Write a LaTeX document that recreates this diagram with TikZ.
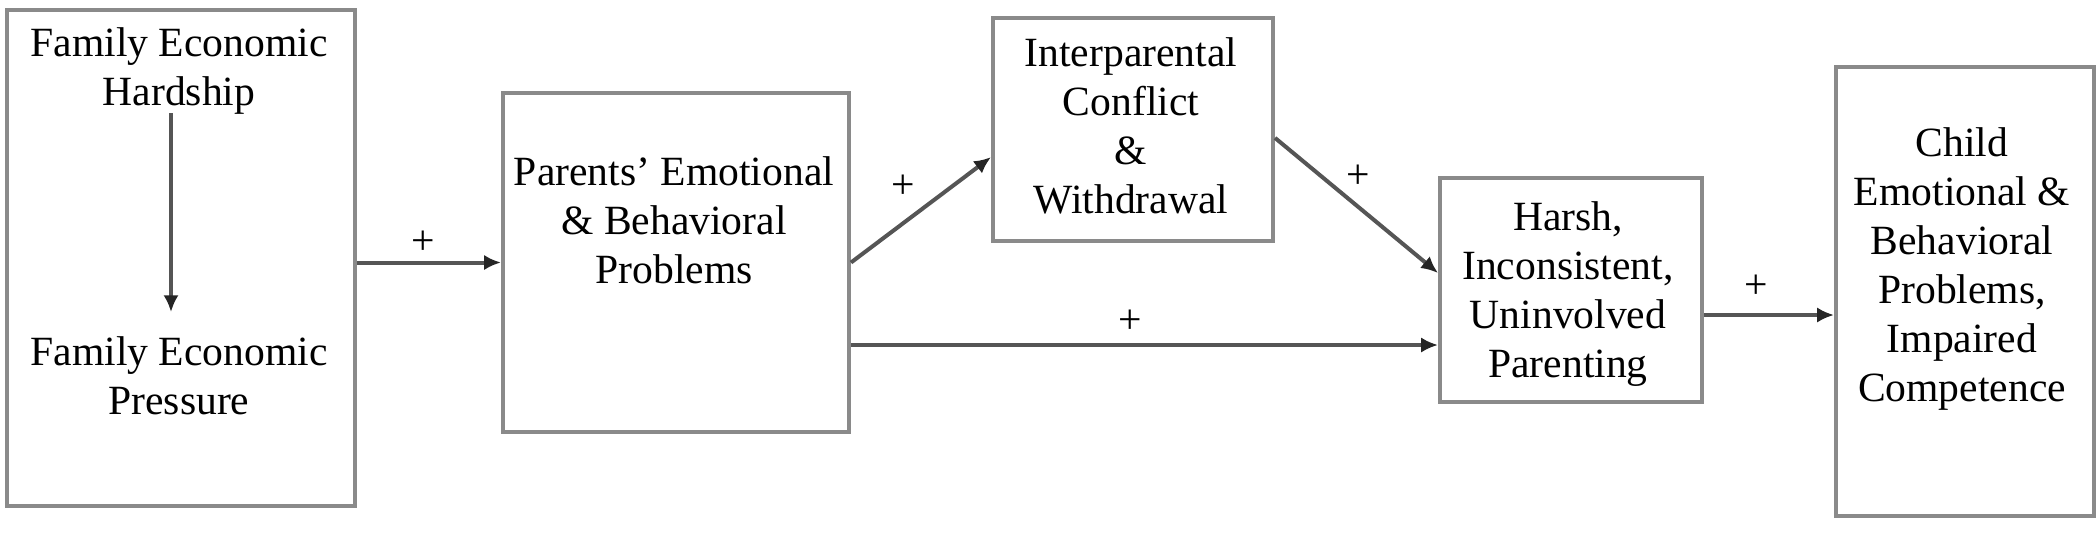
\documentclass[tikz,border=0pt]{standalone}
\usepackage{fontspec}
\setmainfont{Liberation Serif}
\usetikzlibrary{arrows.meta}
\definecolor{boxgray}{HTML}{8A8A8A}
\definecolor{arrgray}{HTML}{555555}
\definecolor{tipgray}{HTML}{252525}
\begin{document}
\begin{tikzpicture}[x=0.25pt,y=-0.25pt,
  box/.style={draw=boxgray,line width=1pt,minimum width=#1,inner sep=0pt},
  lbl/.style={align=center,inner sep=0pt,font=\fontsize{10.4pt}{12.25pt}\selectfont},
  plus/.style={inner sep=0pt,font=\fontsize{10.4pt}{12.25pt}\selectfont},
  arr/.style={draw=arrgray,line width=1pt,-{Latex[length=4.2pt,width=3.8pt,color=tipgray]}}]
\useasboundingbox (0,0) rectangle (2100,538);
% boxes
\node[box=87pt,minimum height=124pt] (b1) at (181,258) {};
\node[box=86.5pt,minimum height=84.75pt] (b2) at (676,262.5) {};
\node[box=70pt,minimum height=55.75pt] (b3) at (1133,129.5) {};
\node[box=65.5pt,minimum height=56pt] (b4) at (1571,290) {};
\node[box=64.5pt,minimum height=112.25pt] (b5) at (1965,291.5) {};
% texts
\node[lbl] (t1) at (179,71) {Family Economic\\Hardship};
\node[lbl] (t2) at (179,376) {Family Economic\\Pressure};
\node[lbl] (t3) at (674,220) {Parents’ Emotional\\\& Behavioral\\Problems};
\node[lbl] (t4) at (1131,126) {Interparental\\Conflict\\\&\\Withdrawal};
\node[lbl] (t5) at (1568,294) {Harsh,\\Inconsistent,\\Uninvolved\\Parenting};
\node[lbl] (t6) at (1962,269) {Child\\Emotional \&\\Behavioral\\Problems,\\Impaired\\Competence};
% plus labels
\node[plus] (p1) at (423,243) {+};
\node[plus] (p2) at (903,187) {+};
\node[plus] (p3) at (1358,177) {+};
\node[plus] (p4) at (1130,322) {+};
\node[plus] (p5) at (1756,287) {+};
% connectors
\draw[arr] ([xshift=-2pt,yshift=0.5pt]t1.south) -- ([xshift=-2pt,yshift=6pt]t2.north);
\draw[arr] (b1.east |- b2.west) -- (b2.west);
\draw[arr] (b2.east) -- ([yshift=-6.9pt]b3.west);
\draw[arr] ([yshift=-2.1pt]b3.east) -- ([yshift=4.25pt]b4.west);
\draw[arr] ([yshift=-20.625pt]b2.east) -- ([yshift=-13.75pt]b4.west);
\draw[arr] ([yshift=-6.25pt]b4.east) -- ([yshift=-5.875pt]b5.west);
\end{tikzpicture}
\end{document}
